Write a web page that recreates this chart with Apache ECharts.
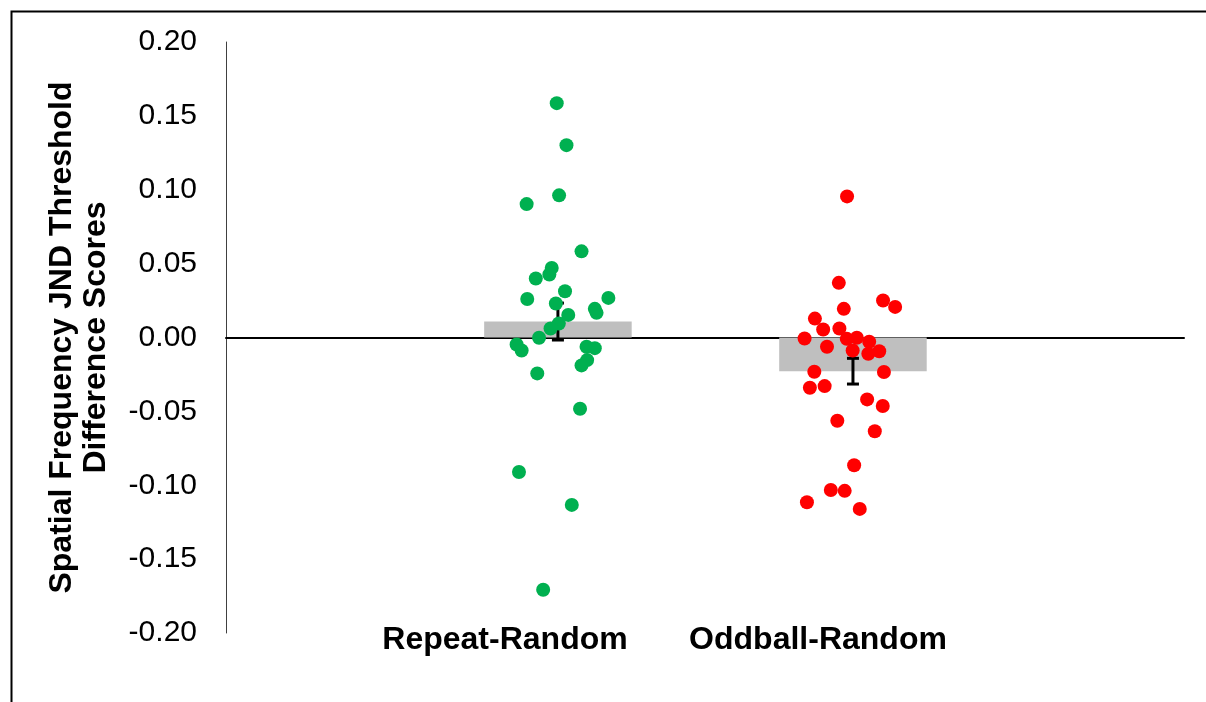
<!DOCTYPE html>
<html>
<head>
<meta charset="utf-8">
<script src="https://cdn.jsdelivr.net/npm/echarts@6/dist/echarts.min.js"></script>
<style>
html,body{margin:0;padding:0;background:#fff;}
#chart{width:1206px;height:702px;}
</style>
</head>
<body>
<div id="chart"></div>
<script>
// ---- data ----
const categories = ['Repeat-Random', 'Oddball-Random'];
const categoryPositions = [1, 2];

const repeatValues = [0.1586, 0.1302, 0.0962, 0.0903, 0.0583, 0.0471, 0.0426, 0.0399, 0.0313, 0.0261,
  0.0268, 0.0230, 0.0194, 0.0167, 0.0153, 0.0095, 0.0061, -0.0002, -0.0047, -0.0088,
  -0.0063, -0.0072, -0.0153, -0.0189, -0.0243, -0.0482, -0.0910, -0.1133, -0.1707];
const repeatJitter = [-0.004, 0.029, 0.004, -0.106, 0.080, -0.021, -0.029, -0.075, 0.024, -0.104,
  0.171, -0.007, 0.125, 0.131, 0.035, 0.003, -0.025, -0.064, -0.140, -0.123,
  0.097, 0.125, 0.099, 0.080, -0.070, 0.075, -0.132, 0.047, -0.050];

const oddballValues = [0.0955, 0.0370, 0.0250, 0.0207, 0.0194, 0.0128, 0.0054, 0.0061, -0.0007, -0.0009,
  -0.0002, -0.0029, -0.0063, -0.0088, -0.0110, -0.0093, -0.0232, -0.0234, -0.0340, -0.0329,
  -0.0419, -0.0464, -0.0563, -0.0635, -0.0865, -0.1032, -0.1038, -0.1115, -0.1160];
const oddballJitter = [-0.020, -0.048, 0.102, 0.143, -0.031, -0.129, -0.101, -0.046, -0.164, -0.021,
  0.013, 0.055, -0.088, -0.001, 0.052, 0.089, -0.131, 0.105, -0.146, -0.096,
  0.048, 0.101, -0.053, 0.074, 0.004, -0.075, -0.028, -0.156, 0.023];

const barMeans = [0.0108, -0.0228];
const barErrors = [0.0125, 0.0087];

const yMin = -0.20, yMax = 0.20, yInterval = 0.05;

// ---- build ----
const FONT = '"Liberation Sans", Arial, sans-serif';
const barHalf = 0.25;

const greenData = repeatValues.map((v, i) => [categoryPositions[0] + repeatJitter[i], v]);
const redData = oddballValues.map((v, i) => [categoryPositions[1] + oddballJitter[i], v]);
const barData = barMeans.map((m, i) => [categoryPositions[i], m]);
const errData = barMeans.map((m, i) => [categoryPositions[i], m - barErrors[i], m + barErrors[i]]);

const chart = echarts.init(document.getElementById('chart'), null, {renderer: 'canvas'});

const option = {
  backgroundColor: '#ffffff',
  animation: false,
  grid: {left: 226, right: 22, top: 42, bottom: 69, containLabel: false},
  xAxis: {
    type: 'value', min: -0.125, max: 3.122,
    axisLine: {show: true, onZero: true, lineStyle: {color: '#000', width: 2}},
    axisTick: {show: false}, axisLabel: {show: false}, splitLine: {show: false}
  },
  yAxis: {
    type: 'value', min: yMin, max: yMax, interval: yInterval,
    axisLine: {show: true, onZero: false, lineStyle: {color: '#404040', width: 1}},
    axisTick: {show: false}, splitLine: {show: false},
    axisLabel: {
      color: '#000', fontSize: 30, fontFamily: FONT, margin: 29,
      formatter: v => v.toFixed(2)
    },
    name: 'Spatial Frequency JND Threshold\nDifference Scores',
    nameLocation: 'middle', nameRotate: 90, nameGap: 113,
    nameTextStyle: {color: '#000', fontSize: 32, fontWeight: 'bold', fontFamily: FONT, lineHeight: 34}
  },
  graphic: [
    {type: 'rect', left: 9, top: 9, silent: true, z: 100,
     shape: {x: 0, y: 0, width: 1400, height: 900},
     style: {fill: 'none', stroke: '#000', lineWidth: 2}}
  ].concat(categories.map((c, i) => ({
    type: 'text', x: [505, 818][i], y: 640, silent: true,
    style: {text: c, fill: '#000', font: 'bold 32px ' + FONT, textAlign: 'center', textVerticalAlign: 'middle'}
  }))),
  series: [
    {
      type: 'custom', z: 1, data: barData,
      renderItem: (params, api) => {
        const x = api.value(0), m = api.value(1);
        const p1 = api.coord([x - barHalf, m]);
        const p2 = api.coord([x + barHalf, 0]);
        return {type: 'rect', shape: {x: p1[0], y: Math.min(p1[1], p2[1]), width: p2[0] - p1[0], height: Math.abs(p2[1] - p1[1])},
                style: {fill: '#BFBFBF'}};
      }
    },
    {
      type: 'custom', z: 2, data: errData,
      renderItem: (params, api) => {
        const x = api.value(0);
        const lo = api.coord([x, api.value(1)]);
        const hi = api.coord([x, api.value(2)]);
        const cw = 6;
        const st = {stroke: '#000', lineWidth: 3};
        return {type: 'group', children: [
          {type: 'line', shape: {x1: lo[0], y1: lo[1], x2: hi[0], y2: hi[1]}, style: st},
          {type: 'line', shape: {x1: lo[0] - cw, y1: lo[1], x2: lo[0] + cw, y2: lo[1]}, style: st},
          {type: 'line', shape: {x1: hi[0] - cw, y1: hi[1], x2: hi[0] + cw, y2: hi[1]}, style: st}
        ]};
      }
    },
    {type: 'scatter', z: 3, data: greenData, symbol: 'circle', symbolSize: 14, itemStyle: {color: '#00B050', opacity: 1}},
    {type: 'scatter', z: 3, data: redData, symbol: 'circle', symbolSize: 14, itemStyle: {color: '#FF0000', opacity: 1}}
  ]
};
chart.setOption(option);
</script>
</body>
</html>
